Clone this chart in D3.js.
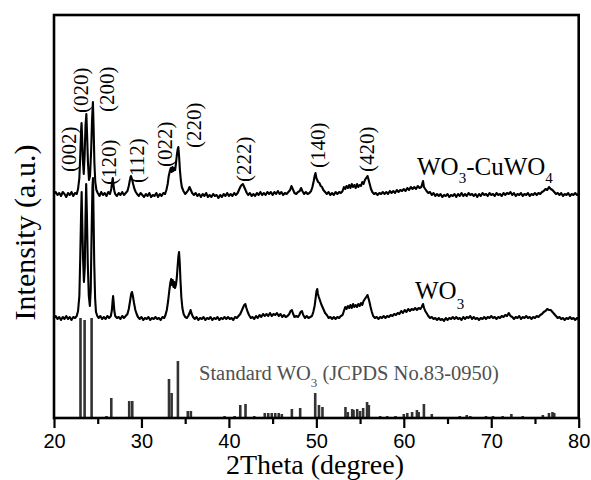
<!DOCTYPE html>
<html>
<head>
<meta charset="utf-8">
<script src="https://cdn.jsdelivr.net/npm/d3@7"></script>
<style>
body { margin: 0; background: #fff; }
</style>
</head>
<body>
<div id="chartWrapper"></div>
<script>
// 2theta (deg), intensity (a.u., offset already included)
var cuwo4Pattern = [
  [20.0,224],[20.2,226],[20.4,223],[20.6,225],[20.8,222],[21.0,226],[21.2,224],[21.4,221],[21.6,225],[21.8,223],
  [22.0,226],[22.2,222],[22.4,225],[22.6,224],[22.75,229],[22.9,240],[23.0,262],[23.1,288],[23.15,295],[23.22,280],
  [23.3,258],[23.4,244],[23.5,262],[23.6,292],[23.7,304],[23.78,284],[23.88,256],[24.0,238],[24.12,242],[24.25,268],
  [24.35,298],[24.45,316],[24.53,290],[24.62,255],[24.72,236],[24.85,228],[25.0,225],[25.2,222],[25.4,226],[25.6,223],
  [25.8,225],[26.0,222],[26.2,226],[26.4,224],[26.55,229],[26.65,236],[26.72,240],[26.8,233],[26.9,227],[27.0,224],
  [27.2,222],[27.4,225],[27.6,223],[27.8,226],[28.0,223],[28.2,225],[28.4,227],[28.55,232],[28.68,238],[28.8,242],
  [28.92,239],[29.05,234],[29.2,229],[29.35,226],[29.5,224],[29.7,222],[29.9,225],[30.1,223],[30.3,221],[30.5,224],
  [30.7,222],[30.9,225],[31.1,221],[31.3,223],[31.5,222],[31.7,225],[31.9,221],[32.1,224],[32.3,222],[32.5,225],
  [32.7,224],[32.85,228],[33.0,234],[33.12,242],[33.25,247],[33.35,250],[33.45,246],[33.55,251],[33.65,247],[33.75,250],
  [33.85,248],[33.95,255],[34.05,263],[34.15,269],[34.22,271],[34.3,262],[34.4,248],[34.5,238],[34.62,231],[34.8,227],
  [35.0,224],[35.2,226],[35.35,228],[35.5,231],[35.65,228],[35.8,225],[36.0,223],[36.2,225],[36.4,222],[36.6,224],
  [36.8,221],[37.0,224],[37.2,222],[37.4,225],[37.6,221],[37.8,223],[38.0,221],[38.2,224],[38.4,222],[38.6,223],
  [38.8,220],[39.0,223],[39.2,221],[39.4,224],[39.6,222],[39.8,225],[40.0,222],[40.2,224],[40.4,222],[40.6,225],
  [40.8,223],[41.0,225],[41.15,228],[41.3,231],[41.45,233],[41.6,234],[41.75,231],[41.9,228],[42.05,225],[42.2,223],
  [42.4,225],[42.6,222],[42.8,224],[43.0,222],[43.2,225],[43.4,223],[43.6,226],[43.8,223],[44.0,225],[44.2,223],
  [44.4,226],[44.6,224],[44.8,226],[45.0,223],[45.2,226],[45.4,224],[45.6,227],[45.8,224],[46.0,226],[46.2,223],
  [46.4,225],[46.6,224],[46.8,226],[47.0,228],[47.15,232],[47.3,229],[47.5,225],[47.7,224],[47.9,226],[48.1,227],
  [48.25,230],[48.4,227],[48.6,224],[48.8,226],[49.0,224],[49.2,225],[49.4,227],[49.55,231],[49.7,237],[49.8,242],
  [49.9,245],[50.0,240],[50.1,238],[50.2,236],[50.35,235],[50.5,232],[50.65,231],[50.8,228],[51.0,226],[51.2,224],
  [51.4,226],[51.6,223],[51.8,225],[52.0,223],[52.2,226],[52.4,224],[52.6,226],[52.8,225],[53.0,227],[53.15,231],
  [53.3,229],[53.45,232],[53.6,230],[53.75,233],[53.9,230],[54.05,234],[54.2,231],[54.35,233],[54.5,230],[54.65,234],
  [54.8,231],[54.95,233],[55.1,232],[55.25,236],[55.4,234],[55.55,238],[55.7,240],[55.85,242],[55.95,239],[56.1,234],
  [56.25,229],[56.4,226],[56.6,224],[56.8,225],[57.0,223],[57.2,225],[57.4,224],[57.6,226],[57.8,224],[58.0,226],
  [58.2,224],[58.4,227],[58.6,225],[58.8,227],[59.0,225],[59.2,228],[59.4,226],[59.6,228],[59.8,227],[60.0,229],
  [60.2,227],[60.4,230],[60.6,228],[60.8,231],[61.0,229],[61.2,231],[61.4,229],[61.6,232],[61.8,230],[62.0,231],
  [62.1,234],[62.2,237],[62.3,231],[62.45,229],[62.6,227],[62.8,225],[63.0,226],[63.2,223],[63.4,225],[63.6,222],
  [63.8,224],[64.0,222],[64.2,224],[64.4,221],[64.6,223],[64.8,222],[65.0,224],[65.2,221],[65.4,223],[65.6,222],
  [65.8,224],[66.0,221],[66.2,224],[66.4,222],[66.6,225],[66.8,222],[67.0,224],[67.2,222],[67.4,225],[67.6,223],
  [67.8,224],[68.0,222],[68.2,224],[68.4,221],[68.6,224],[68.8,222],[69.0,225],[69.2,223],[69.4,224],[69.6,222],
  [69.8,225],[70.0,223],[70.2,224],[70.4,222],[70.6,225],[70.8,223],[71.0,224],[71.2,222],[71.4,225],[71.6,223],
  [71.8,225],[72.0,224],[72.2,226],[72.4,223],[72.6,225],[72.8,222],[73.0,224],[73.2,223],[73.4,225],[73.6,222],
  [73.8,224],[74.0,223],[74.2,225],[74.4,222],[74.6,224],[74.8,223],[75.0,225],[75.2,223],[75.4,225],[75.6,224],
  [75.8,226],[76.0,227],[76.2,229],[76.4,228],[76.6,231],[76.8,229],[77.0,228],[77.2,226],[77.4,224],[77.6,225],
  [77.8,223],[78.0,225],[78.2,222],[78.4,224],[78.6,223],[78.8,225],[79.0,222],[79.2,224],[79.4,223],[79.6,225],
  [79.8,223],[80.0,224]
];

var wo3Pattern = [
  [20.0,100],[20.2,102],[20.4,99],[20.6,101],[20.8,98],[21.0,101],[21.2,99],[21.4,102],[21.6,99],[21.8,101],
  [22.0,98],[22.2,101],[22.4,100],[22.6,102],[22.75,107],[22.9,122],[23.0,160],[23.1,205],[23.16,226],[23.22,200],
  [23.32,160],[23.42,136],[23.52,150],[23.6,200],[23.68,234],[23.76,205],[23.86,155],[23.98,122],[24.1,112],[24.2,128],
  [24.3,185],[24.4,232],[24.46,240],[24.52,205],[24.6,155],[24.7,120],[24.8,106],[24.95,102],[25.1,100],[25.3,102],
  [25.5,99],[25.7,101],[25.9,99],[26.1,102],[26.3,100],[26.5,102],[26.62,108],[26.7,117],[26.76,122],[26.82,116],
  [26.9,107],[27.0,102],[27.2,100],[27.4,101],[27.6,99],[27.8,102],[28.0,100],[28.2,102],[28.4,104],[28.55,109],
  [28.7,117],[28.82,124],[28.92,126],[29.02,122],[29.15,115],[29.3,108],[29.45,104],[29.6,101],[29.8,99],[30.0,101],
  [30.2,98],[30.4,100],[30.6,99],[30.8,101],[31.0,98],[31.2,100],[31.4,99],[31.6,101],[31.8,99],[32.0,100],
  [32.2,98],[32.4,101],[32.6,100],[32.75,103],[32.9,108],[33.05,117],[33.18,127],[33.3,135],[33.4,139],[33.5,133],
  [33.58,138],[33.66,131],[33.74,136],[33.84,130],[33.94,133],[34.04,140],[34.14,152],[34.22,161],[34.3,166],[34.38,155],
  [34.46,138],[34.56,121],[34.68,110],[34.82,104],[35.0,101],[35.2,100],[35.35,102],[35.5,105],[35.62,108],[35.75,104],
  [35.9,101],[36.1,99],[36.3,101],[36.5,98],[36.7,100],[36.9,99],[37.1,101],[37.3,98],[37.5,100],[37.7,99],
  [37.9,101],[38.1,98],[38.3,100],[38.5,99],[38.7,101],[38.9,98],[39.1,100],[39.3,99],[39.5,101],[39.7,99],
  [39.9,101],[40.1,99],[40.3,100],[40.5,98],[40.7,101],[40.9,100],[41.1,102],[41.3,104],[41.45,107],[41.6,110],
  [41.75,113],[41.88,114],[42.0,110],[42.15,106],[42.3,103],[42.5,100],[42.7,101],[42.9,99],[43.1,102],[43.3,100],
  [43.5,103],[43.7,101],[43.9,104],[44.1,102],[44.3,104],[44.5,102],[44.7,105],[44.9,102],[45.1,104],[45.3,103],
  [45.5,105],[45.7,102],[45.9,104],[46.1,101],[46.3,103],[46.5,101],[46.7,102],[46.9,104],[47.05,107],[47.2,108],
  [47.35,104],[47.5,101],[47.7,102],[47.9,101],[48.05,103],[48.2,106],[48.35,107],[48.5,103],[48.7,100],[48.9,102],
  [49.1,100],[49.3,101],[49.5,102],[49.65,106],[49.8,112],[49.92,120],[50.02,127],[50.1,129],[50.18,124],[50.28,121],
  [50.4,118],[50.55,114],[50.7,111],[50.85,108],[51.0,105],[51.2,103],[51.4,100],[51.6,101],[51.8,99],[52.0,101],
  [52.2,99],[52.4,101],[52.6,100],[52.8,102],[53.0,103],[53.15,107],[53.3,111],[53.45,109],[53.6,112],[53.75,110],
  [53.9,113],[54.05,110],[54.2,114],[54.35,111],[54.5,113],[54.65,111],[54.8,114],[54.95,112],[55.1,115],[55.25,113],
  [55.4,117],[55.55,119],[55.7,121],[55.85,123],[55.95,120],[56.05,117],[56.2,111],[56.35,106],[56.5,102],[56.7,100],
  [56.9,101],[57.1,99],[57.3,101],[57.5,100],[57.7,102],[57.9,100],[58.1,102],[58.3,101],[58.5,103],[58.7,102],
  [58.9,104],[59.1,103],[59.3,105],[59.5,104],[59.7,107],[59.9,105],[60.1,108],[60.3,106],[60.5,109],[60.7,107],
  [60.9,109],[61.1,108],[61.3,110],[61.5,108],[61.7,110],[61.9,109],[62.05,111],[62.2,114],[62.32,110],[62.45,107],
  [62.6,105],[62.8,102],[63.0,100],[63.2,101],[63.4,99],[63.6,100],[63.8,98],[64.0,100],[64.2,98],[64.4,99],
  [64.6,97],[64.8,100],[65.0,98],[65.2,100],[65.4,99],[65.6,101],[65.8,99],[66.0,101],[66.2,99],[66.4,100],
  [66.6,98],[66.8,101],[67.0,99],[67.2,101],[67.4,100],[67.6,102],[67.8,99],[68.0,101],[68.2,99],[68.4,100],
  [68.6,98],[68.8,100],[69.0,99],[69.2,101],[69.4,99],[69.6,101],[69.8,100],[70.0,102],[70.2,100],[70.4,101],
  [70.6,99],[70.8,101],[71.0,100],[71.2,102],[71.4,101],[71.6,103],[71.8,102],[72.0,105],[72.2,102],[72.4,101],
  [72.6,99],[72.8,101],[73.0,100],[73.2,102],[73.4,99],[73.6,101],[73.8,100],[74.0,102],[74.2,100],[74.4,101],
  [74.6,99],[74.8,101],[75.0,100],[75.2,102],[75.4,101],[75.6,103],[75.8,104],[76.0,106],[76.2,107],[76.4,109],
  [76.6,108],[76.8,108],[77.0,106],[77.2,104],[77.4,102],[77.6,100],[77.8,101],[78.0,99],[78.2,100],[78.4,98],
  [78.6,100],[78.8,99],[79.0,101],[79.2,99],[79.4,100],[79.6,98],[79.8,100],[80.0,99]
];

// JCPDS 83-0950 reference lines: 2theta, relative height
var standardLines = [
  [23.03,100],[23.5,98],[24.3,100],[26.0,2],[26.55,20],[28.6,17],[28.95,17],[33.15,39],[33.45,25],[34.17,57],
  [35.3,7],[35.65,7],[36.3,1],[39.5,2],[39.7,1],[40.65,2],[41.3,13],[41.9,14],[42.9,2],[44.1,5],
  [44.5,5],[44.9,5],[45.3,5],[45.7,5],[46.05,4],[47.2,9],[48.15,10],[49.87,25],[50.3,13],[50.7,11],
  [53.33,11],[53.6,6],[54.1,9],[54.25,8],[54.67,9],[55.0,7],[55.35,10],[55.8,16],[56.0,13],[57.3,2],
  [58.1,2],[59.05,2],[60.0,4],[60.4,5],[60.95,6],[61.5,8],[61.7,6],[62.3,14],[63.2,4],[66.4,2],
  [67.2,3],[67.6,2],[68.3,1],[69.4,2],[70.2,2],[71.3,2],[72.3,4],[72.8,1],[73.6,2],[74.3,1],
  [75.1,1],[75.9,3],[76.6,5],[77.0,6],[77.2,5],[78.9,1]
];

// hkl label, 2theta, intensity where the label starts
var hklLabels = [
  ["(002)",21.7,246],["(020)",23.1,305],["(200)",26.0,306],["(120)",26.3,233],["(112)",29.4,235],
  ["(022)",32.6,251],["(220)",36.0,270],["(222)",41.7,236],["(140)",50.1,250],["(420)",55.7,246]
];

var xTicks = [20, 30, 40, 50, 60, 70, 80];
var xMinorTicks = [25, 35, 45, 55, 65, 75];

var w = 591;
var h = 480;
var padL = 54, padR = 578.7, padT = 15, padB = 418;
var serif = "'Liberation Serif', 'Times New Roman', serif";

var svg = d3.select("#chartWrapper")
    .append("svg")
    .attr("width", w)
    .attr("height", h);

var x = d3.scaleLinear().domain([20, 80]).range([padL, padR]);
var y = d3.scaleLinear().domain([0, 403]).range([padB, padT]);

svg.selectAll(".stdbar")
    .data(standardLines)
    .enter()
    .append("line")
    .attr("class", "stdbar")
    .attr("x1", function(d) { return x(d[0]); })
    .attr("x2", function(d) { return x(d[0]); })
    .attr("y1", y(0))
    .attr("y2", function(d) { return y(d[1]); })
    .attr("stroke", "#333")
    .attr("stroke-width", 2.6);

var line = d3.line()
    .x(function(d) { return x(d[0]); })
    .y(function(d) { return y(d[1]); });

svg.append("path")
    .datum(wo3Pattern)
    .attr("d", line)
    .attr("fill", "none")
    .attr("stroke", "#000")
    .attr("stroke-width", 2.1)
    .attr("stroke-linejoin", "round");

svg.append("path")
    .datum(cuwo4Pattern)
    .attr("d", line)
    .attr("fill", "none")
    .attr("stroke", "#000")
    .attr("stroke-width", 2.1)
    .attr("stroke-linejoin", "round");

svg.selectAll(".hkl")
    .data(hklLabels)
    .enter()
    .append("text")
    .attr("class", "hkl")
    .attr("transform", function(d) { return "translate(" + x(d[1]) + "," + y(d[2]) + ") rotate(-90)"; })
    .attr("dy", "0.35em")
    .style("font-family", serif)
    .style("font-size", "21px")
    .text(function(d) { return d[0]; });

// sample labels
var t1 = svg.append("text")
    .attr("x", 417)
    .attr("y", 175)
    .style("font-family", serif)
    .style("font-size", "25px");
t1.append("tspan").text("WO");
t1.append("tspan").attr("dy", 8).style("font-size", "15px").text("3");
t1.append("tspan").attr("dy", -8).text("-CuWO");
t1.append("tspan").attr("dy", 8).style("font-size", "15px").text("4");

var t2 = svg.append("text")
    .attr("x", 415)
    .attr("y", 299)
    .style("font-family", serif)
    .style("font-size", "25px");
t2.append("tspan").text("WO");
t2.append("tspan").attr("dy", 10).style("font-size", "15px").text("3");

var t3 = svg.append("text")
    .attr("x", 199)
    .attr("y", 380)
    .attr("fill", "#505050")
    .style("font-family", serif)
    .style("font-size", "20.5px");
t3.append("tspan").text("Standard WO");
t3.append("tspan").attr("dy", 7).style("font-size", "13px").text("3");
t3.append("tspan").attr("dy", -7).text(" (JCPDS No.83-0950)");

// axis
var minorAxis = svg.append("g")
    .attr("transform", "translate(0," + padB + ")")
    .call(d3.axisBottom(x).tickValues(xMinorTicks).tickSize(6).tickSizeOuter(0).tickFormat(""));
minorAxis.select(".domain").remove();

var xAxis = svg.append("g")
    .attr("transform", "translate(0," + padB + ")")
    .call(d3.axisBottom(x).tickValues(xTicks).tickSize(10).tickSizeOuter(0).tickPadding(6).tickFormat(d3.format("d")));
xAxis.select(".domain").remove();
svg.selectAll(".tick line").attr("stroke", "#000").attr("stroke-width", 2.2);
xAxis.selectAll("text")
    .attr("fill", "#000")
    .style("font-family", "'Liberation Sans', Arial, sans-serif")
    .style("font-size", "20px");

svg.append("rect")
    .attr("x", padL)
    .attr("y", padT)
    .attr("width", padR - padL)
    .attr("height", padB - padT)
    .attr("fill", "none")
    .attr("stroke", "#000")
    .attr("stroke-width", 2.6);

svg.append("text")
    .attr("transform", "translate(35," + ((padT + padB) / 2 + 16) + ") rotate(-90)")
    .attr("text-anchor", "middle")
    .style("font-family", serif)
    .style("font-size", "30px")
    .text("Intensity (a.u.)");

svg.append("text")
    .attr("x", 315)
    .attr("y", 474)
    .attr("text-anchor", "middle")
    .style("font-family", serif)
    .style("font-size", "28px")
    .text("2Theta (degree)");
</script>
</body>
</html>
